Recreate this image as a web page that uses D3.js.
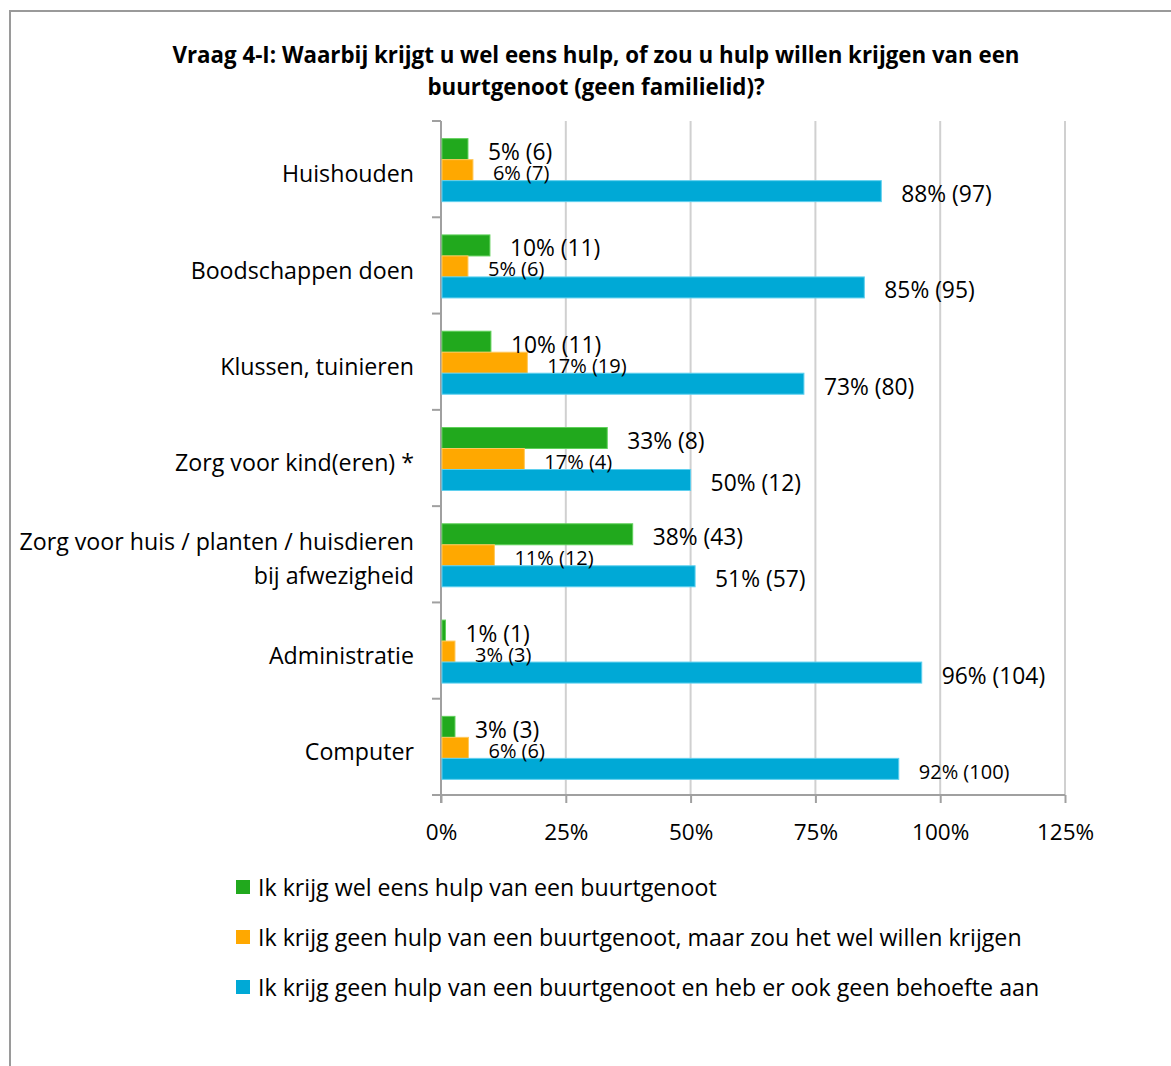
<!DOCTYPE html>
<html>
<head>
<meta charset="utf-8">
<script src="https://cdn.jsdelivr.net/npm/d3@7"></script>
<style>
  body { margin: 0; background: #fff; }
  svg { display: block; font-family: "Open Sans", sans-serif; }
</style>
</head>
<body>
<div class="chart"></div>
<script>
// chart data
var categories = ['Huishouden', 'Boodschappen doen', 'Klussen, tuinieren', 'Zorg voor kind(eren) *',
  'Zorg voor huis / planten / huisdieren|bij afwezigheid', 'Administratie', 'Computer'];
var series = ['Ik krijg wel eens hulp van een buurtgenoot',
  'Ik krijg geen hulp van een buurtgenoot, maar zou het wel willen krijgen',
  'Ik krijg geen hulp van een buurtgenoot en heb er ook geen behoefte aan'];
var pctWel = [5.4, 9.8, 10.0, 33.3, 38.4, 0.9, 2.8];
var pctWil = [6.4, 5.4, 17.3, 16.7, 10.7, 2.8, 5.5];
var pctGeen = [88.2, 84.8, 72.7, 50.0, 50.9, 96.3, 91.7];
var nWel = [6, 11, 11, 8, 43, 1, 3];
var nWil = [7, 6, 19, 4, 12, 3, 6];
var nGeen = [97, 95, 80, 12, 57, 104, 100];
var ticks = [0, 25, 50, 75, 100, 125];
var colors = ['#21a91d', '#ffa800', '#00a9d6'];
var strokes = ['#5fd05a', '#ffc85a', '#5fd0ef'];

var width = 1171, height = 1066;
var pLeft = 441, pRight = 1065, pTop = 121, pBottom = 795;

var svg = d3.select('.chart').append('svg')
  .attr('width', width)
  .attr('height', height);

// outer frame (only top and left visible)
svg.append('path')
  .attr('d', 'M10,1066 V11 H1171')
  .attr('fill', 'none')
  .attr('stroke', '#9a9a9a')
  .attr('stroke-width', 2);

// title
var title = svg.append('text')
  .attr('text-anchor', 'middle')
  .attr('font-weight', 'bold')
  .attr('font-size', 22.3)
  .attr('fill', '#000');
title.append('tspan').attr('x', 596).attr('y', 63)
  .text('Vraag 4-I: Waarbij krijgt u wel eens hulp, of zou u hulp willen krijgen van een');
title.append('tspan').attr('x', 596).attr('y', 95)
  .text('buurtgenoot (geen familielid)?');

var x = d3.scaleLinear().domain([0, 125]).range([pLeft, pRight]);
var y = d3.scaleBand().domain(categories).range([pTop, pBottom]);
var y1 = d3.scaleBand().domain([0, 1, 2]).range([0, 63]);
var off = (y.step() - 63) / 2 + 1;

// gridlines
svg.append('g').selectAll('line')
  .data(ticks.slice(1))
  .enter().append('line')
  .attr('x1', function (d) { return x(d); })
  .attr('x2', function (d) { return x(d); })
  .attr('y1', pTop)
  .attr('y2', pBottom)
  .attr('stroke', '#d0d0d0')
  .attr('stroke-width', 2);

// x axis
var xAxis = svg.append('g')
  .attr('transform', 'translate(0,' + pBottom + ')')
  .call(d3.axisBottom(x).tickValues(ticks).tickSize(8).tickFormat(function (d) { return d + '%'; }));
xAxis.select('.domain').attr('stroke', '#a0a0a0').attr('stroke-width', 2)
  .attr('d', 'M432,0H' + pRight);
xAxis.selectAll('.tick line').attr('stroke', '#a0a0a0').attr('stroke-width', 2);
xAxis.selectAll('.tick text')
  .attr('font-family', '"Open Sans", sans-serif')
  .attr('font-size', 22.5)
  .attr('fill', '#000')
  .attr('y', 37)
  .attr('dy', '0.35em');

// y axis
var yAxis = svg.append('g')
  .attr('transform', 'translate(' + pLeft + ',0)');
yAxis.append('line')
  .attr('x1', 0).attr('x2', 0).attr('y1', pTop).attr('y2', pBottom + 8)
  .attr('stroke', '#a0a0a0').attr('stroke-width', 2);
var bounds = categories.map(function (c) { return y(c); }).concat([pBottom]);
yAxis.selectAll('.ytick')
  .data(bounds)
  .enter().append('line')
  .attr('x1', -9).attr('x2', 0)
  .attr('y1', function (d) { return d; })
  .attr('y2', function (d) { return d; })
  .attr('stroke', '#a0a0a0').attr('stroke-width', 2);

// category labels
svg.append('g').selectAll('text')
  .data(categories)
  .enter().append('text')
  .attr('text-anchor', 'end')
  .attr('font-size', 23.2)
  .attr('fill', '#000')
  .each(function (d) {
    var lines = d.split('|');
    var cy = y(d) + y.step() / 2 + 5;
    var t = d3.select(this);
    lines.forEach(function (l, i) {
      t.append('tspan')
        .attr('x', 414)
        .attr('y', cy + (i - (lines.length - 1) / 2) * 34)
        .attr('dy', '0.35em')
        .text(l);
    });
  });

// bars
var rows = [];
categories.forEach(function (c, i) {
  var p = [pctWel[i], pctWil[i], pctGeen[i]];
  var n = [nWel[i], nWil[i], nGeen[i]];
  for (var s = 0; s < 3; s++) {
    rows.push({ cat: c, s: s, v: p[s], n: n[s], small: s === 1 || (s === 2 && c === 'Computer') });
  }
});

var bars = svg.append('g').selectAll('.bar')
  .data(rows)
  .enter();

bars.append('rect')
  .attr('x', pLeft + 1)
  .attr('y', function (d) { return y(d.cat) + off + y1(d.s); })
  .attr('width', function (d) { return x(d.v) - pLeft - 1; })
  .attr('height', y1.bandwidth())
  .attr('fill', function (d) { return colors[d.s]; })
  .attr('stroke', function (d) { return strokes[d.s]; })
  .attr('stroke-width', 1);

bars.append('text')
  .attr('x', function (d) { return x(d.v) + 20; })
  .attr('y', function (d) { return y(d.cat) + off + y1(d.s) + y1.bandwidth() / 2 + 3; })
  .attr('dy', '0.35em')
  .attr('font-size', function (d) { return d.small ? 20 : 22.8; })
  .attr('fill', '#000')
  .text(function (d) { return Math.round(d.v) + '% (' + d.n + ')'; });

// legend
var legend = svg.append('g').selectAll('.leg')
  .data(series)
  .enter().append('g')
  .attr('transform', function (d, i) { return 'translate(236,' + (880 + i * 50) + ')'; });
legend.append('rect')
  .attr('width', 14).attr('height', 14)
  .attr('fill', function (d, i) { return colors[i]; });
legend.append('text')
  .attr('x', 22).attr('y', 8)
  .attr('dy', '0.35em')
  .attr('font-size', 23.2)
  .attr('fill', '#000')
  .text(function (d) { return d; });
</script>
</body>
</html>
